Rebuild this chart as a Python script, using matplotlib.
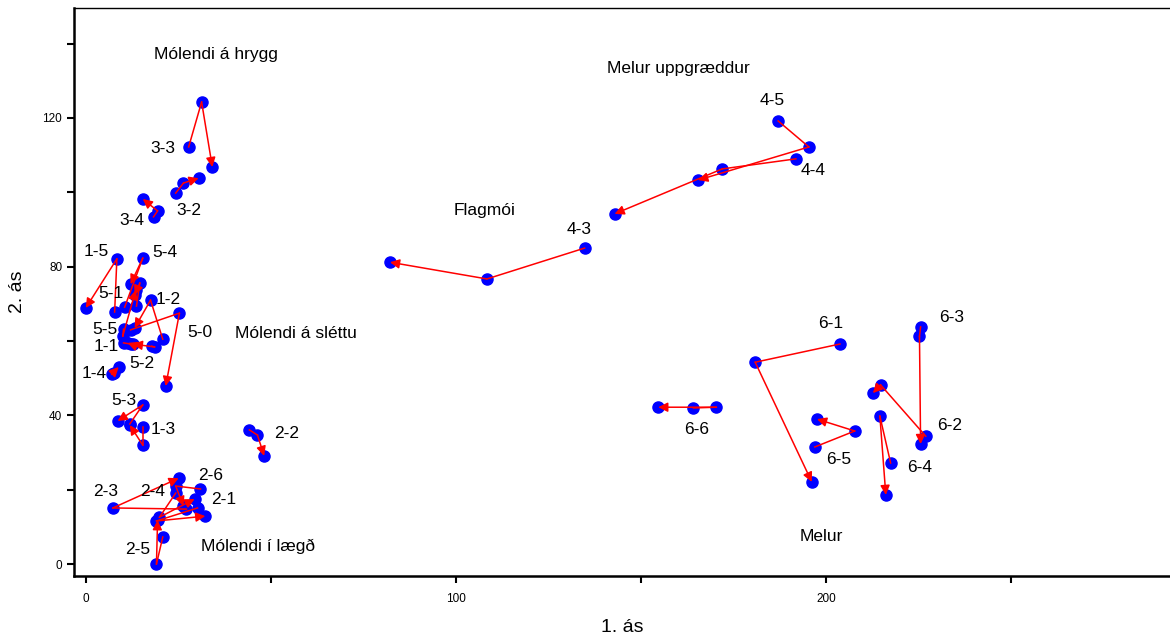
import matplotlib
matplotlib.use('Agg')
import matplotlib.pyplot as plt

plt.rcParams['font.family'] = ['Liberation Sans', 'DejaVu Sans']

# reitir: hnit á 1. og 2. ás fyrir þrjár mælingar (fyrsta -> önnur -> síðasta)
reitir = ['4-5', '4-4', '4-3', '6-1', '6-6', '6-5', '6-3', '6-2', '6-4',
          '3-3', '3-2', '3-4',
          '1-5', '5-4', '5-1', '5-5', '1-2', '5-0', '1-1', '5-2', '1-4', '5-3', '1-3',
          '2-2', '2-3', '2-5', '2-4', '2-6', '2-1']

as1 = [
    [187.1, 195.4, 165.5], [191.9, 172.0, 142.9], [134.8, 108.4, 82.2],
    [203.8, 180.9, 196.2], [164.2, 170.4, 154.7], [197.0, 207.8, 197.6],
    [225.6, 225.3, 225.6], [227.0, 214.8, 212.7], [217.5, 214.6, 216.2],
    [27.8, 31.3, 34.2], [24.3, 26.4, 30.5], [18.3, 19.4, 15.4],
    [7.8, 8.4, 0.0], [10.5, 15.4, 12.1], [13.7, 14.6, 13.2], [10.2, 10.0, 13.5],
    [20.8, 17.5, 13.2], [12.1, 25.3, 21.6], [10.2, 12.1, 11.3], [17.8, 18.6, 12.7],
    [7.5, 7.0, 8.9], [11.9, 15.4, 8.6], [15.4, 15.4, 11.9],
    [44.2, 46.4, 48.2], [27.2, 7.3, 25.1], [20.8, 19.1, 19.4],
    [24.3, 19.9, 29.4], [31.0, 24.3, 26.4], [30.2, 19.1, 32.3],
]

as2 = [
    [119.2, 112.2, 103.3], [109.0, 106.3, 94.2], [85.0, 76.7, 81.2],
    [59.2, 54.3, 22.1], [42.0, 42.2, 42.2], [31.5, 35.8, 39.0],
    [63.8, 61.3, 32.3], [34.4, 48.2, 46.0], [27.2, 39.8, 18.6],
    [112.2, 124.3, 106.8], [99.8, 102.5, 103.8], [93.4, 95.0, 98.2],
    [67.8, 82.1, 68.9], [69.1, 82.3, 75.3], [69.4, 75.6, 72.4], [63.2, 61.3, 73.7],
    [60.5, 71.0, 63.5], [63.0, 67.5, 47.9], [59.5, 59.2, 59.5], [58.6, 58.4, 59.2],
    [51.4, 51.1, 53.0], [37.7, 42.8, 38.5], [36.9, 32.0, 37.4],
    [36.1, 34.7, 29.1], [14.8, 15.1, 23.1], [7.3, 0.0, 11.8],
    [19.1, 12.6, 17.5], [20.2, 21.0, 15.6], [15.1, 11.6, 12.9],
]

# staðsetning merkinga við reiti
merki_xy = {
    '4-5': (185.4, 124.8), '4-4': (196.5, 106.0), '4-3': (133.2, 89.9),
    '6-1': (201.3, 64.6), '6-3': (234.0, 66.2), '6-2': (233.4, 37.4),
    '6-4': (225.3, 26.1), '6-5': (203.5, 28.2), '6-6': (165.0, 36.1),
    '3-3': (20.8, 111.9), '3-2': (27.8, 95.2), '3-4': (12.4, 92.5),
    '1-5': (2.7, 84.2), '5-4': (21.3, 83.7), '5-1': (6.7, 72.9),
    '1-2': (22.4, 71.3), '5-5': (5.1, 63.0), '5-0': (30.7, 62.2),
    '1-1': (5.4, 58.4), '5-2': (15.1, 54.0), '1-4': (2.4, 51.4),
    '5-3': (10.2, 43.9), '1-3': (20.8, 36.3),
    '2-2': (54.2, 35.0), '2-6': (33.7, 23.7), '2-4': (18.1, 19.6),
    '2-3': (5.4, 19.6), '2-1': (37.2, 17.5), '2-5': (14.0, 4.0),
}

# gróðurlendi
flokkar = ['Mólendi á hrygg', 'Melur uppgræddur', 'Flagmói',
           'Mólendi á sléttu', 'Mólendi í lægð', 'Melur']
flokkar_xy = [(35.3, 137.2), (160.1, 133.4), (107.8, 95.0),
              (56.9, 61.9), (46.6, 4.8), (198.7, 7.3)]

fig = plt.figure(figsize=(11.7, 6.39), dpi=100)
ax = fig.add_axes([0.0632, 0.0986, 0.9368, 0.889])

for nafn, x, y in zip(reitir, as1, as2):
    ax.plot(x, y, 'o', color='#0000ff', markersize=8, zorder=2)
    ax.plot(x[:2], y[:2], '-', color='#ff0000', lw=1.1, zorder=3)
    ax.annotate('', xy=(x[2], y[2]), xytext=(x[1], y[1]),
                arrowprops=dict(arrowstyle='-|>', color='#ff0000', lw=1.1,
                                mutation_scale=14, shrinkA=0, shrinkB=0),
                zorder=3)
    tx, ty = merki_xy[nafn]
    ax.text(tx, ty, nafn, ha='center', va='center', fontsize=12.5)

for t, (tx, ty) in zip(flokkar, flokkar_xy):
    ax.text(tx, ty, t, ha='center', va='center', fontsize=12.5)

ax.set_xlim(-3.2, 293)
ax.set_ylim(-3.2, 149.6)
ax.set_xticks(range(0, 300, 50))
ax.set_xticklabels(['0', '', '100', '', '200', ''])
ax.set_yticks(range(0, 160, 20))
ax.set_yticklabels(['0', '', '40', '', '80', '', '120', ''])
ax.tick_params(labelsize=8.5, length=5, width=1.5)
ax.tick_params(axis='x', pad=7)

ax.spines['right'].set_visible(False)
ax.spines['top'].set_linewidth(1.0)
ax.spines['left'].set_linewidth(1.8)
ax.spines['bottom'].set_linewidth(1.8)

ax.set_xlabel('1. ás', fontsize=14, labelpad=10)
ax.set_ylabel('2. ás', fontsize=14, labelpad=12)

plt.savefig('out.png', dpi=100)
